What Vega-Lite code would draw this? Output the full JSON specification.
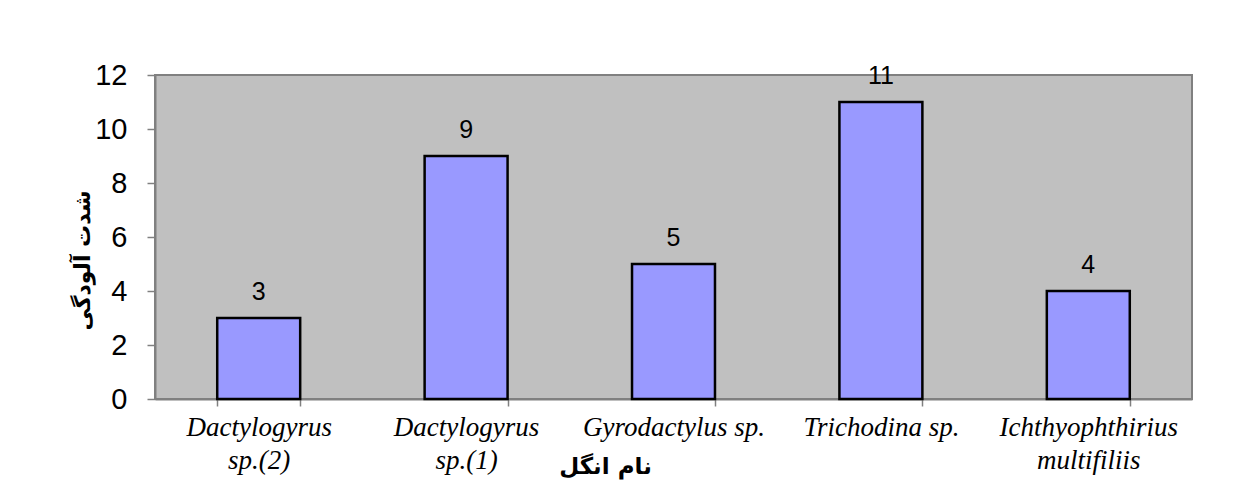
{
  "$schema": "https://vega.github.io/schema/vega-lite/v6.json",
  "width": 1037,
  "height": 324,
  "autosize": {"type": "none"},
  "padding": {"left": 155, "top": 75, "right": 55, "bottom": 97},
  "background": "white",
  "config": {
    "view": {"fill": "#C0C0C0", "stroke": "#808080", "strokeWidth": 2}
  },
  "data": {
    "values": [
      {"parasite": "Dactylogyrus\nsp.(2)", "value": 3},
      {"parasite": "Dactylogyrus\nsp.(1)", "value": 9},
      {"parasite": "Gyrodactylus sp.", "value": 5},
      {"parasite": "Trichodina sp.", "value": 11},
      {"parasite": "Ichthyophthirius\nmultifiliis", "value": 4}
    ]
  },
  "encoding": {
    "x": {
      "field": "parasite",
      "type": "nominal",
      "sort": null,
      "scale": {"paddingInner": 0.6, "paddingOuter": 0.3},
      "axis": {
        "title": "نام انگل",
        "titleFont": "DejaVu Sans",
        "titleFontWeight": "bold",
        "titleFontSize": 23,
        "titleColor": "black",
        "titleX": 450,
        "titleY": 67,
        "titleBaseline": "middle",
        "titleAnchor": null,
        "titleAlign": "center",
        "labelAngle": 0,
        "labelExpr": "split(datum.label, '\\n')",
        "labelFont": "Liberation Serif",
        "labelFontStyle": "italic",
        "labelFontSize": 27,
        "labelColor": "black",
        "labelLineHeight": 33,
        "labelPadding": 8,
        "labelBaseline": "top",
        "labelLimit": 400,
        "tickBand": "extent",
        "tickColor": "#808080",
        "tickSize": 7,
        "tickWidth": 1.5,
        "domainColor": "#808080",
        "domainWidth": 2,
        "grid": false
      }
    },
    "y": {
      "field": "value",
      "type": "quantitative",
      "scale": {"domain": [0, 12]},
      "axis": {
        "values": [0, 2, 4, 6, 8, 10, 12],
        "title": "شدت آلودگی",
        "titleFont": "DejaVu Sans",
        "titleFontWeight": "bold",
        "titleFontSize": 22,
        "titleColor": "black",
        "titleX": -73,
        "titleY": 185,
        "titleAngle": -90,
        "titleBaseline": "middle",
        "titleAlign": "center",
        "titleAnchor": null,
        "labelFont": "Liberation Sans",
        "labelFontSize": 29,
        "labelColor": "black",
        "labelPadding": 20,
        "tickColor": "#808080",
        "tickSize": 8,
        "tickWidth": 1.5,
        "domainColor": "#808080",
        "domainWidth": 2,
        "grid": false
      }
    }
  },
  "layer": [
    {
      "mark": {"type": "bar", "fill": "#9999FF", "stroke": "black", "strokeWidth": 2.5}
    },
    {
      "mark": {
        "type": "text",
        "font": "Liberation Sans",
        "fontSize": 25,
        "color": "black",
        "baseline": "alphabetic",
        "dy": -18
      },
      "encoding": {"text": {"field": "value", "type": "quantitative"}}
    }
  ]
}
